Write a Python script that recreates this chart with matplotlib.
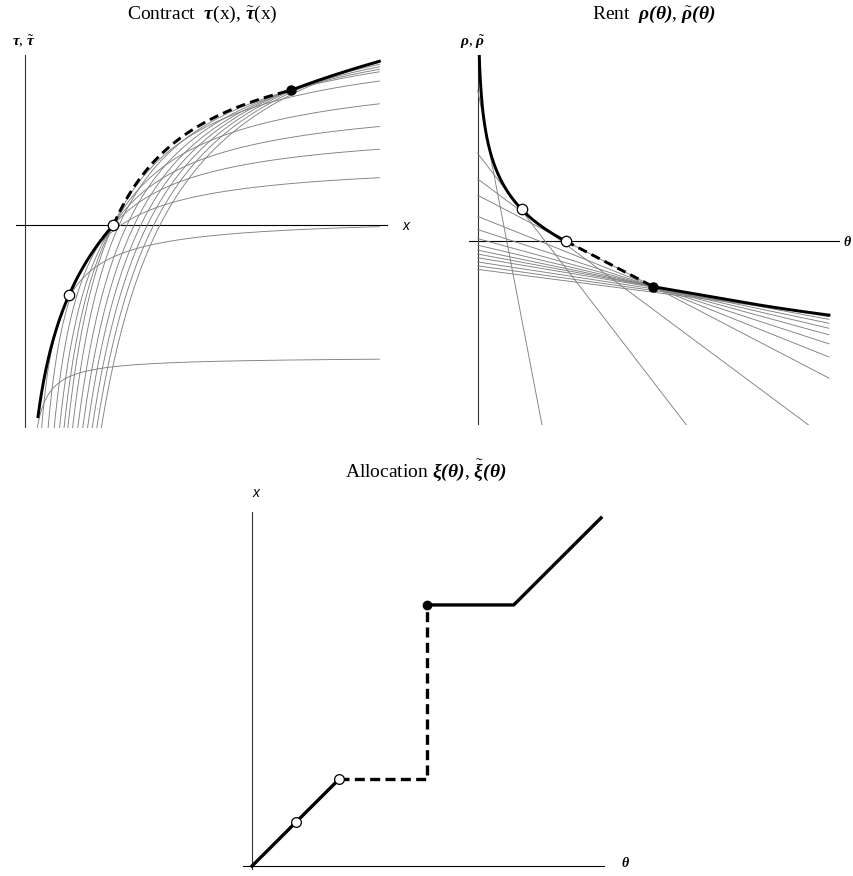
import numpy as np
import matplotlib.pyplot as plt

plt.rcParams['mathtext.fontset'] = 'custom'
plt.rcParams['mathtext.rm'] = 'Liberation Serif'
plt.rcParams['mathtext.it'] = 'Liberation Serif:italic'
plt.rcParams['mathtext.bf'] = 'Liberation Serif:bold:italic'

# model: kink points of the menu / allocation
xa = 1 / 3        # open circle on the x-axis, end of first solid piece
th2 = 2 / 3       # type where the dashed allocation jumps
xb = 1.0          # filled dot (bunching level)
top = 4 / 3       # right end of every curve
x_lo = 0.05       # left end of the thick contract curve

# sampled types / contracts drawn in gray
samples = [0.0333, 0.1333, 0.2333, 0.3333, 0.4333, 0.5333, 0.6333,
           0.7333, 0.8333, 0.9333, 1.0333, 1.1333, 1.2333, 1.3333]

open_pts = [1 / 6, 1 / 3]
filled_pt = 2 / 3

# allocation polylines
alloc_solid1 = ([0, xa], [0, xa])
alloc_dash = ([xa, th2, th2], [xa, xa, xb])
alloc_solid2 = ([th2, xb, top], [xb, xb, top])

tau_b = th2 * (1 / xa - 1 / xb)


def tau_of(x):
    x = np.asarray(x, dtype=float)
    low = np.log(x / xa)
    mid = th2 * (1 / xa - 1 / x)
    high = tau_b + np.log(x / xb)
    return np.where(x <= xa, low, np.where(x < xb, mid, high))


def choice(th):
    th = np.asarray(th, dtype=float)
    return np.where(th <= xa, th, np.where(th <= th2, xa, np.where(th <= xb, xb, th)))


def rent(th):
    c = choice(th)
    return 1 - tau_of(c) - th / c


W, H = 854, 876
fig = plt.figure(figsize=(W / 100, H / 100), dpi=100)


def box(l, t, r, b):
    ax = fig.add_axes([l / W, 1 - b / H, (r - l) / W, (b - t) / H])
    ax.axis('off')
    return ax


def ftext(px, py, s, **kw):
    fig.text(px / W, 1 - py / H, s, ha='center', va='center', **kw)


GRAY = '#808080'
dash = (0, (3.2, 1.8))

# ---------------- Contract ----------------
ax1 = box(16, 55, 388, 428)
ax1.set_xlim(-0.0327, 1.3658)
ax1.set_ylim(-2.01, 1.683)
ax1.axhline(0, color='k', lw=0.8)
ax1.axvline(0, color='#333333', lw=0.8)
xs = np.linspace(0.002, top, 3000)
for th in samples:
    c = choice(th)
    A = tau_of(c) + th / c
    ax1.plot(xs, A - th / xs, color=GRAY, lw=0.65)
x1 = np.linspace(x_lo, xa, 300)
x2 = np.linspace(xa, xb, 300)
x3 = np.linspace(xb, top, 200)
ax1.plot(x1, tau_of(x1), color='k', lw=2.1)
ax1.plot(x2, tau_of(x2), color='k', lw=2.1, linestyle=dash)
ax1.plot(x3, tau_of(x3), color='k', lw=2.1)
ax1.plot(open_pts, tau_of(open_pts), 'o', ms=7.5, mfc='white', mec='k', mew=0.9)
ax1.plot([xb], [tau_b], 'o', ms=6.5, color='k')

# ---------------- Rent ----------------
ax2 = box(469, 55, 840, 425)
ax2.set_xlim(-0.0332, 1.3752)
ax2.set_ylim(-4.026, 4.07)
ax2.axhline(0, color='k', lw=0.8)
ax2.axvline(0, color='#333333', lw=0.8)
for x in samples:
    ths = np.array([0, top])
    ax2.plot(ths, 1 - tau_of(x) - ths / x, color=GRAY, lw=0.65)
t1 = np.linspace(0.003, xa, 400)
t2 = np.linspace(xa, th2, 100)
t3 = np.linspace(th2, top, 300)
ax2.plot(t1, rent(t1), color='k', lw=2.1)
ax2.plot(t2, rent(t2), color='k', lw=2.1, linestyle=dash)
ax2.plot(t3, rent(t3), color='k', lw=2.1)
ax2.plot(open_pts, rent(open_pts), 'o', ms=7.5, mfc='white', mec='k', mew=0.9)
ax2.plot([filled_pt], [rent(filled_pt)], 'o', ms=6.5, color='k')

# ---------------- Allocation ----------------
ax3 = box(243, 512, 605, 870)
ax3.set_xlim(-0.0345, 1.3487)
ax3.set_ylim(-0.0153, 1.356)
ax3.axhline(0, color='k', lw=0.8)
ax3.axvline(0, color='#333333', lw=0.8)
ax3.plot(*alloc_solid1, color='k', lw=2.4)
ax3.plot(*alloc_dash, color='k', lw=2.4, linestyle=(0, (3.0, 1.6)))
ax3.plot(*alloc_solid2, color='k', lw=2.4)
ax3.plot(open_pts, open_pts, 'o', ms=7, mfc='white', mec='k', mew=0.9, zorder=5)
ax3.plot([filled_pt], [xb], 'o', ms=6, color='k', zorder=5)

# ---------------- texts ----------------
serif = dict(family='Liberation Serif', fontsize=14)
ftext(202, 14, r'Contract  $\mathbf{\tau}$(x), $\tilde{\mathbf{\tau}}$(x)', **serif)
ftext(654, 14, r'Rent  $\mathbf{\rho(\theta)}$, $\tilde{\mathbf{\rho}}\mathbf{(\theta)}$', **serif)
ftext(426, 470, r'Allocation $\mathbf{\xi(\theta)}$, $\tilde{\mathbf{\xi}}\mathbf{(\theta)}$', **serif)

ftext(24, 42, r'$\mathbf{\tau}$, $\tilde{\mathbf{\tau}}$', family='Liberation Serif', fontsize=11)
ftext(473, 42, r'$\mathbf{\rho}$, $\tilde{\mathbf{\rho}}$', family='Liberation Serif', fontsize=11)
sans = dict(family='Liberation Sans', style='italic', fontsize=10)
ftext(406, 226, 'x', **sans)
ftext(256, 493, 'x', **sans)
ftext(847, 242, r'$\mathbf{\theta}$', family='Liberation Serif', fontsize=10)
ftext(625, 863, r'$\mathbf{\theta}$', family='Liberation Serif', fontsize=10)

fig.savefig('out.png', dpi=100)
